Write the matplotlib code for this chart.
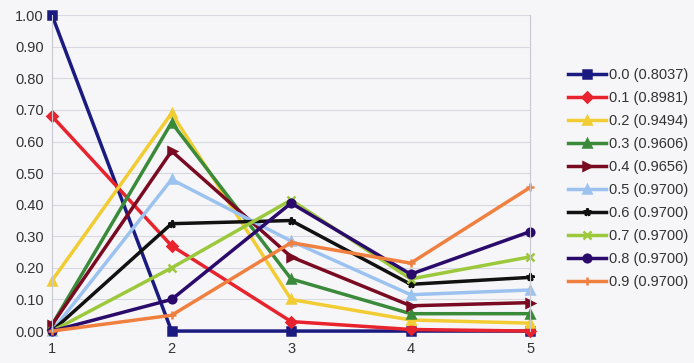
import matplotlib
matplotlib.use('Agg')
import matplotlib.pyplot as plt

plt.rcParams['font.family'] = ['Liberation Sans', 'DejaVu Sans']

steps = [1, 2, 3, 4, 5]
labels = ['0.0 (0.8037)', '0.1 (0.8981)', '0.2 (0.9494)', '0.3 (0.9606)', '0.4 (0.9656)',
          '0.5 (0.9700)', '0.6 (0.9700)', '0.7 (0.9700)', '0.8 (0.9700)', '0.9 (0.9700)']
values = [
    [1.00, 0.00, 0.00, 0.00, 0.00],
    [0.68, 0.27, 0.03, 0.005, 0.00],
    [0.16, 0.69, 0.10, 0.035, 0.025],
    [0.02, 0.66, 0.165, 0.055, 0.055],
    [0.02, 0.57, 0.235, 0.08, 0.09],
    [0.00, 0.48, 0.285, 0.115, 0.13],
    [0.00, 0.34, 0.35, 0.148, 0.17],
    [0.00, 0.20, 0.415, 0.165, 0.235],
    [0.00, 0.10, 0.405, 0.18, 0.315],
    [0.00, 0.05, 0.28, 0.215, 0.455],
]
colors = ['#1a1a80', '#e8232d', '#f2cc33', '#3a8a3a', '#7a0a22',
          '#9cc3f0', '#111111', '#9cc83c', '#2a0a6a', '#f08040']
markers = ['s', 'D', '^', '^', '>', '^', '*', 'x', 'o', '+']

fig = plt.figure(figsize=(6.94, 3.63), dpi=100)
fig.patch.set_facecolor('#f6f6f8')
ax = fig.add_axes([0.075, 0.088, 0.689, 0.870])
ax.set_facecolor('#f6f6f8')

for vals, lab, c, m in zip(values, labels, colors, markers):
    ax.plot(steps, vals, color=c, marker=m, lw=2.5, ms=5.5, mew=1.8, label=lab, clip_on=False)

ax.set_xlim(1, 5)
ax.set_ylim(0, 1)
ax.set_xticks(steps)
ax.set_yticks([i / 10 for i in range(11)])
ax.set_yticklabels([f'{i / 10:.2f}' for i in range(11)])
ax.grid(axis='y', color='#d8d8e0', lw=0.8)
ax.set_axisbelow(True)
for s in ['top', 'bottom']:
    ax.spines[s].set_visible(False)
for s in ['left', 'right']:
    ax.spines[s].set_color('#c8c8d0')
ax.tick_params(length=0, labelsize=10.5, labelcolor='#333333')
ax.tick_params(axis='y', pad=6)
ax.tick_params(axis='x', pad=8)

ax.legend(loc='center left', bbox_to_anchor=(1.08, 0.483), frameon=False,
          fontsize=10.5, handlelength=2.6, labelspacing=0.62, handletextpad=0.15,
          borderpad=0, borderaxespad=0, labelcolor='#333333')

plt.savefig('out.png', dpi=100)
